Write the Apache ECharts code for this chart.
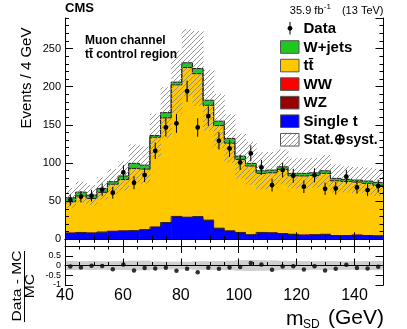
<!DOCTYPE html>
<html>
<head>
<meta charset="utf-8">
<script src="https://cdn.jsdelivr.net/npm/echarts@6/dist/echarts.min.js"></script>
<style>
html, body { margin: 0; padding: 0; background: #fff; }
#main { width: 407px; height: 329px; }
</style>
</head>
<body>
<div id="main"></div>
<script>
// binning of m_SD (GeV)
var xMin = 40, xMax = 150, nBins = 30;

// observed data and its stat. error
var dataObs = [51.4, 55.8, 57.1, 65, 61, 87.7, 74.1, 84.2, 116, 146.6, 151.8, 194, 146.6, 161.4, 129,
               119, 100.8, 112.5, 94.2, 71, 90.7, 83.3, 68.9, 83.8, 66.2, 66.7, 82, 68, 64.5, 69.8];
var dataErr = [7.2, 7.5, 7.6, 8.1, 7.8, 9.4, 8.6, 9.2, 10.8, 12.1, 12.3, 13.9, 12.1, 12.7, 11.4,
               10.9, 10, 10.6, 9.7, 8.4, 9.5, 9.1, 8.3, 9.2, 8.1, 8.2, 9.1, 8.2, 8, 8.4];

// backgrounds (stack order bottom -> top)
var singleT = [8.2, 9, 8.3, 9.4, 10.5, 11, 11.3, 12.6, 16, 22, 30, 28.8, 29.6, 25, 14.5,
               11, 9, 6, 9, 8.5, 7.5, 6.5, 5.5, 6, 6.5, 5, 5, 5.5, 5, 4.5];
var wz = [0.3, 0.4, 0.3, 0.4, 0.4, 0.5, 0.5, 0.6, 0.7, 0.8, 1, 1.1, 1, 0.9, 0.7,
          0.5, 0.4, 0.4, 0.3, 0.3, 0.3, 0.3, 0.2, 0.2, 0.2, 0.2, 0.2, 0.2, 0.2, 0.2];
var ww = [0.7, 0.6, 0.7, 0.6, 0.6, 0.5, 0.5, 0.4, 0.3, 0.2, 0, 0, 0, 0.1, 0.3,
          0.5, 0.6, 0.6, 0.7, 0.7, 0.7, 0.7, 0.8, 0.8, 0.8, 0.8, 0.8, 0.8, 0.8, 0.8];
var ttbar = [40, 46.8, 44.2, 51.1, 60.7, 66.3, 80.6, 78.4, 116.8, 136.2, 171.4, 195.2, 186.4, 149.6, 133.5,
             114, 94.7, 89, 76.4, 77.7, 83.1, 75.8, 76.5, 76.7, 78.9, 70.7, 69.9, 68.5, 67.3, 65.2];
var wjets = [5.3, 5, 4.3, 5.2, 3.3, 4.7, 6.6, 5.2, 2.3, 6.8, 3.6, 6.2, 6.8, 6.6, 5.8,
             6.2, 4.3, 3.5, 3.4, 3.5, 3.4, 3.1, 3.4, 3.5, 3.4, 3.1, 2.6, 2.6, 3, 3.9];

// relative stat+syst uncertainty of the MC per bin
var relUnc = [0.24, 0.22, 0.23, 0.22, 0.22, 0.23, 0.25, 0.25, 0.21, 0.2, 0.2, 0.19, 0.22, 0.22, 0.23,
              0.24, 0.27, 0.28, 0.27, 0.26, 0.24, 0.23, 0.23, 0.22, 0.23, 0.23, 0.22, 0.22, 0.23, 0.24];

var font = "'Liberation Sans', Arial, Helvetica, sans-serif";
var binW = (xMax - xMin) / nBins;

// hatch pattern for the uncertainty band
var hatch = document.createElement('canvas');
hatch.width = 5; hatch.height = 5;
var hc = hatch.getContext('2d');
hc.strokeStyle = '#8a8a8a';
hc.lineWidth = 0.9;
hc.beginPath();
hc.moveTo(0, 5); hc.lineTo(5, 0);
hc.moveTo(-1, 1); hc.lineTo(1, -1);
hc.moveTo(4, 6); hc.lineTo(6, 4);
hc.stroke();
var hatchFill = { image: hatch, repeat: 'repeat' };

var stackDefs = [
    { vals: singleT, color: '#0000ff', outline: true },
    { vals: wz, color: '#990000', outline: false },
    { vals: ww, color: '#ff0000', outline: false },
    { vals: ttbar, color: '#ffc800', outline: true },
    { vals: wjets, color: '#1ec81e', outline: true }
];

function fillItem(color) {
    return function (params, api) {
        var p0 = api.coord([api.value(0), api.value(3)]);
        var p1 = api.coord([api.value(1), api.value(2)]);
        return {
            type: 'rect',
            shape: { x: p0[0], y: p0[1], width: p1[0] - p0[0] + 0.6, height: p1[1] - p0[1] },
            style: { fill: color }
        };
    };
}

function outlineItem(params, api) {
    var p0 = api.coord([api.value(0), api.value(3)]);
    var p1 = api.coord([api.value(1), api.value(4)]);
    return {
        type: 'polyline',
        shape: { points: [[p0[0], p0[1]], [p1[0], p0[1]], [p1[0], p1[1]]] },
        style: { stroke: '#222', lineWidth: 1, fill: null }
    };
}

var series = [];
var outlines = [];
var base = [];
for (var i = 0; i < nBins; i++) base.push(0);

stackDefs.forEach(function (d) {
    var items = [], tops = [];
    for (var i = 0; i < nBins; i++) {
        var lo = xMin + i * binW;
        tops.push(base[i] + d.vals[i]);
        items.push([lo, lo + binW, base[i], tops[i]]);
    }
    for (i = 0; i < nBins; i++) items[i].push(i < nBins - 1 ? tops[i + 1] : tops[i]);
    series.push({
        type: 'custom', xAxisIndex: 0, yAxisIndex: 0, z: 2, clip: true,
        renderItem: fillItem(d.color), data: items, silent: true
    });
    if (d.outline) {
        outlines.push({
            type: 'custom', xAxisIndex: 0, yAxisIndex: 0, z: 3, clip: true,
            renderItem: outlineItem, data: items, silent: true
        });
    }
    base = tops;
});
var total = base;
series = series.concat(outlines);

// uncertainty band on the stack
var bandItems = [], ratioBand = [], dataItems = [], ratioItems = [];
for (i = 0; i < nBins; i++) {
    var lo = xMin + i * binW;
    bandItems.push([lo, lo + binW, total[i] * (1 - relUnc[i]), total[i] * (1 + relUnc[i])]);
    ratioBand.push([lo, lo + binW, -relUnc[i], relUnc[i]]);
    dataItems.push([lo + binW / 2, dataObs[i], dataErr[i]]);
    ratioItems.push([lo + binW / 2, dataObs[i] / total[i] - 1]);
}

series.push({
    type: 'custom', xAxisIndex: 0, yAxisIndex: 0, z: 4, clip: true, silent: true,
    renderItem: fillItem(hatchFill), data: bandItems
});

series.push({
    type: 'custom', xAxisIndex: 0, yAxisIndex: 0, z: 5, clip: true, silent: true,
    data: dataItems,
    renderItem: function (params, api) {
        var x = api.value(0), y = api.value(1), e = api.value(2);
        var c = api.coord([x, y]);
        var a = api.coord([x, y - e]);
        var b = api.coord([x, y + e]);
        return {
            type: 'group',
            children: [
                { type: 'line', shape: { x1: c[0], y1: a[1], x2: c[0], y2: b[1] }, style: { stroke: '#000', lineWidth: 1 } },
                { type: 'circle', shape: { cx: c[0], cy: c[1], r: 2.4 }, style: { fill: '#000' } }
            ]
        };
    }
});

// ratio panel
series.push({
    type: 'custom', xAxisIndex: 4, yAxisIndex: 4, z: 2, clip: true, silent: true,
    renderItem: fillItem('#cfcfcf'), data: ratioBand
});
series.push({
    type: 'scatter', xAxisIndex: 4, yAxisIndex: 4, z: 5, silent: true,
    symbol: 'circle', symbolSize: 4.5,
    itemStyle: { color: '#000' },
    data: ratioItems,
    markLine: {
        silent: true, symbol: 'none', label: { show: false },
        lineStyle: { color: '#555', width: 1, type: 'solid' },
        data: [{ yAxis: 0 }]
    }
});

function xAx(grid, pos, interval, len, labels) {
    return {
        type: 'value', gridIndex: grid, position: pos, min: xMin, max: xMax, interval: interval,
        z: 10,
        axisLine: { show: len > 5, lineStyle: { color: '#000', width: 1 } },
        axisTick: { show: true, inside: true, length: len, lineStyle: { color: '#000', width: 1 } },
        axisLabel: labels ? {
            show: true, fontSize: 16, color: '#000', margin: 3, fontFamily: font,
            showMaxLabel: false
        } : { show: false },
        splitLine: { show: false }
    };
}
function yAx(grid, pos, min, max, interval, len, labels, size) {
    return {
        type: 'value', gridIndex: grid, position: pos, min: min, max: max, interval: interval,
        z: 10,
        axisLine: { show: len > 5, lineStyle: { color: '#000', width: 1 } },
        axisTick: { show: true, inside: true, length: len, lineStyle: { color: '#000', width: 1 } },
        axisLabel: labels ? {
            show: true, fontSize: size, color: '#000', margin: 4, fontFamily: font,
            showMaxLabel: false
        } : { show: false },
        splitLine: { show: false }
    };
}

// plain text helper, y is the vertical middle of the text
function txt(x, y, s, f, align, extra) {
    var o = { type: 'text', x: x, y: y, z: 20,
        style: { text: s, font: f, fill: '#000', textAlign: align, align: align,
                 textVerticalAlign: 'middle', verticalAlign: 'middle' } };
    if (extra) for (var k in extra) o[k] = extra[k];
    return o;
}

var legendRows = [
    { label: 'W+jets', fill: '#1ec81e' },
    { label: 'tt\u0304', fill: '#ffc800' },
    { label: 'WW', fill: '#ff0000' },
    { label: 'WZ', fill: '#990000' },
    { label: 'Single t', fill: '#0000ff' },
    { label: 'Stat.\u2295syst.', fill: hatchFill }
];
var graphics = [];
// legend: data entry
graphics.push({ type: 'line', shape: { x1: 290, y1: 22, x2: 290, y2: 34.5 }, style: { stroke: '#000', lineWidth: 1 } });
graphics.push({ type: 'circle', shape: { cx: 290, cy: 28.3, r: 2.4 }, style: { fill: '#000' } });
graphics.push(txt(303.5, 28.8, 'Data', 'bold 15px ' + font, 'left'));
legendRows.forEach(function (r, k) {
    var cy = 47 + k * 18.55;
    graphics.push({ type: 'rect', shape: { x: 280.5, y: cy - 6.3, width: 18.5, height: 12.6 },
        style: { fill: r.fill, stroke: '#555', lineWidth: 1 } });
    var extra = k === 5 ? { scaleX: 0.93, originX: 0, originY: 0 } : null;
    graphics.push(txt(303.5, cy + 0.5, r.label, 'bold 15px ' + font, 'left', extra));
});

graphics.push(txt(65, 8.5, 'CMS', 'bold 13px ' + font, 'left'));
graphics.push(txt(323.5, 10.5, '35.9 fb', '11px ' + font, 'right'));
graphics.push(txt(323.8, 6.5, '-1', '8px ' + font, 'left'));
graphics.push(txt(383.5, 10.5, '(13 TeV)', '11px ' + font, 'right'));
graphics.push(txt(85, 40.5, 'Muon channel', 'bold 12px ' + font, 'left'));
graphics.push(txt(85, 54.5, 'tt\u0304 control region', 'bold 12px ' + font, 'left'));

// y titles
graphics.push(txt(27, 78, 'Events / 4 GeV', '15px ' + font, 'center', { rotation: Math.PI / 2 }));
graphics.push(txt(18, 286, 'Data - MC', '12px ' + font, 'center', { rotation: Math.PI / 2, scaleX: 1.3 }));
graphics.push({ type: 'line', shape: { x1: 24.5, y1: 251, x2: 24.5, y2: 322 }, style: { stroke: '#000', lineWidth: 1 } });
graphics.push(txt(30.5, 286, 'MC', '12px ' + font, 'center', { rotation: Math.PI / 2, scaleX: 1.3 }));

// x title
graphics.push(txt(286, 319.5, 'm', '21px ' + font, 'left'));
graphics.push(txt(303, 324.5, 'SD', '12px ' + font, 'left'));
graphics.push(txt(384, 318.5, '(GeV)', '21px ' + font, 'right'));

var chart = echarts.init(document.getElementById('main'), null, { renderer: 'canvas' });
chart.setOption({
    animation: false,
    backgroundColor: '#fff',
    grid: [
        { left: 65, right: 23.5, top: 18, height: 221.3 },
        { left: 65, right: 23.5, top: 246, height: 39 }
    ],
    xAxis: [
        xAx(0, 'bottom', 20, 7, false),
        xAx(0, 'bottom', 5, 3.5, false),
        xAx(0, 'top', 20, 7, false),
        xAx(0, 'top', 5, 3.5, false),
        xAx(1, 'bottom', 20, 7, true),
        xAx(1, 'bottom', 5, 3.5, false),
        xAx(1, 'top', 20, 7, false),
        xAx(1, 'top', 5, 3.5, false)
    ],
    yAxis: [
        yAx(0, 'left', 0, 290, 50, 8, true, 11),
        yAx(0, 'left', 0, 290, 10, 4, false),
        yAx(0, 'right', 0, 290, 50, 8, false),
        yAx(0, 'right', 0, 290, 10, 4, false),
        yAx(1, 'left', -1, 1, 0.5, 8, true, 9),
        yAx(1, 'right', -1, 1, 0.5, 8, false)
    ],
    graphic: graphics,
    series: series
});
</script>
</body>
</html>
